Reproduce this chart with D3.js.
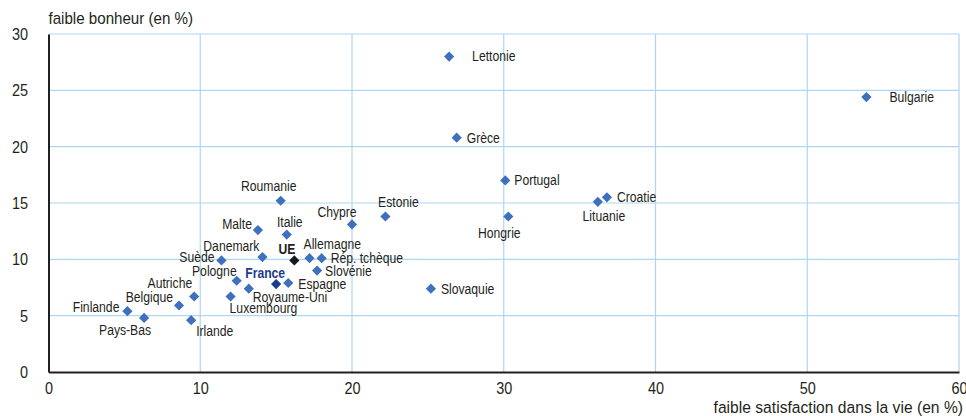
<!DOCTYPE html>
<html>
<head>
<meta charset="utf-8">
<script src="https://cdn.jsdelivr.net/npm/d3@7"></script>
<style>
  body { margin: 0; background: #fff; }
  svg text { font-family: "Liberation Sans", Arial, sans-serif; fill: #231f20; }
</style>
</head>
<body>
<div id="chart"></div>
<script>
const countries = ['Lettonie', 'Bulgarie', 'Grèce', 'Portugal', 'Croatie', 'Lituanie', 'Hongrie', 'Slovaquie',
  'Estonie', 'Chypre', 'Roumanie', 'Malte', 'Italie', 'Danemark', 'UE', 'Allemagne', 'Rép. tchèque',
  'Slovénie', 'Espagne', 'France', 'Royaume-Uni', 'Pologne', 'Luxembourg', 'Suède', 'Autriche',
  'Belgique', 'Irlande', 'Finlande', 'Pays-Bas'];
const lowSatisfaction = [26.4, 53.9, 26.9, 30.1, 36.8, 36.2, 30.3, 25.2,
  22.2, 20.0, 15.3, 13.8, 15.7, 14.1, 16.2, 17.2, 18.0,
  17.7, 15.8, 15.0, 13.2, 12.4, 12.0, 11.4, 9.6,
  8.6, 9.4, 5.2, 6.3];
const lowHappiness = [28.0, 24.4, 20.8, 17.0, 15.5, 15.1, 13.8, 7.4,
  13.8, 13.1, 15.2, 12.6, 12.2, 10.2, 9.9, 10.1, 10.1,
  9.0, 7.9, 7.8, 7.4, 8.1, 6.7, 9.9, 6.7,
  5.9, 4.6, 5.4, 4.8];
const xTicks = [0, 10, 20, 30, 40, 50, 60];
const yTicks = [0, 5, 10, 15, 20, 25, 30];

// label placement: [dx, dy, anchor]
const labelPlace = {
  'Lettonie': [23, 0, 'start'], 'Bulgarie': [23, 0, 'start'], 'Grèce': [10, 0, 'start'],
  'Portugal': [9, 0, 'start'], 'Croatie': [10, 0, 'start'], 'Lituanie': [6, 14, 'middle'],
  'Hongrie': [-9, 17, 'middle'], 'Slovaquie': [10, 0, 'start'], 'Estonie': [13, -14, 'middle'],
  'Chypre': [-15, -12, 'middle'], 'Roumanie': [-12, -15, 'middle'], 'Malte': [-6, -6, 'end'],
  'Italie': [3, -12, 'middle'], 'Danemark': [-3, -11, 'end'], 'UE': [1, -11, 'end'],
  'Allemagne': [-6, -14, 'start'], 'Rép. tchèque': [9, 0, 'start'], 'Slovénie': [8, 0, 'start'],
  'Espagne': [10, 1, 'start'], 'France': [9, -11, 'end'], 'Royaume-Uni': [4, 8, 'start'],
  'Pologne': [0, -10, 'end'], 'Luxembourg': [-1, 12, 'start'], 'Suède': [-7, -3, 'end'],
  'Autriche': [-2, -13, 'end'], 'Belgique': [-6, -8, 'end'], 'Irlande': [5, 11, 'start'],
  'Finlande': [-8, -4, 'end'], 'Pays-Bas': [7, 12, 'end']
};

const data = countries.map((c, i) => ({ name: c, x: lowSatisfaction[i], y: lowHappiness[i] }));

const width = 966, height = 416;
const margin = { top: 34, right: 7, bottom: 44, left: 48.5 };
const gw = width - margin.left - margin.right;
const gh = height - margin.top - margin.bottom;
const narrow = 0.87; // condensed look

const svg = d3.select('#chart').append('svg')
  .attr('width', width).attr('height', height);
const g = svg.append('g').attr('transform', `translate(${margin.left},${margin.top})`);

const x = d3.scaleLinear().domain([0, 60]).range([0, gw]);
const y = d3.scaleLinear().domain([0, 30]).range([gh, 0]);

// grid
g.append('g').selectAll('line').data(yTicks.filter(d => d > 0)).join('line')
  .attr('x1', 0).attr('x2', gw)
  .attr('y1', d => y(d)).attr('y2', d => y(d))
  .attr('stroke', '#aed6f1').attr('stroke-width', 1.2);
g.append('g').selectAll('line').data(xTicks.filter(d => d > 0)).join('line')
  .attr('x1', d => x(d)).attr('x2', d => x(d))
  .attr('y1', 0).attr('y2', gh)
  .attr('stroke', '#aed6f1').attr('stroke-width', 1.2);

// axes
const xAxis = g.append('g').attr('transform', `translate(0,${gh})`)
  .call(d3.axisBottom(x).tickValues(xTicks).tickSize(0).tickPadding(10));
const yAxis = g.append('g')
  .call(d3.axisLeft(y).tickValues(yTicks).tickSize(0).tickPadding(24));
[xAxis, yAxis].forEach(a => {
  a.select('.domain').attr('stroke', '#231f20').attr('stroke-width', 2);
  a.selectAll('text').attr('font-size', 17).attr('fill', '#231f20')
    .attr('font-family', '"Liberation Sans", Arial, sans-serif')
    .attr('transform', 'scale(0.85,1)');
});

// axis titles
svg.append('text').attr('transform', `translate(${margin.left},24) scale(0.89,1)`)
  .attr('font-size', 17).text('faible bonheur (en %)');
svg.append('text').attr('transform', `translate(963,413) scale(0.92,1)`)
  .attr('text-anchor', 'end').attr('font-size', 17).text('faible satisfaction dans la vie (en %)');

// points
const colorOf = d => d.name === 'France' ? '#1c3c8c' : d.name === 'UE' ? '#1a1a1a' : '#3e70be';
g.append('g').selectAll('path').data(data).join('path')
  .attr('d', d3.symbol(d3.symbolSquare, 52))
  .attr('transform', d => `translate(${x(d.x)},${y(d.y)}) rotate(45)`)
  .attr('fill', colorOf);

// labels
g.append('g').selectAll('text').data(data).join('text')
  .attr('transform', d => `translate(${x(d.x) + labelPlace[d.name][0]},${y(d.y) + labelPlace[d.name][1]}) scale(${narrow},1)`)
  .attr('dy', '0.35em')
  .attr('text-anchor', d => labelPlace[d.name][2])
  .attr('font-size', 14)
  .attr('font-weight', d => (d.name === 'France' || d.name === 'UE') ? 'bold' : 'normal')
  .style('fill', d => d.name === 'France' ? '#1c3c8c' : '#231f20')
  .text(d => d.name);
</script>
</body>
</html>
